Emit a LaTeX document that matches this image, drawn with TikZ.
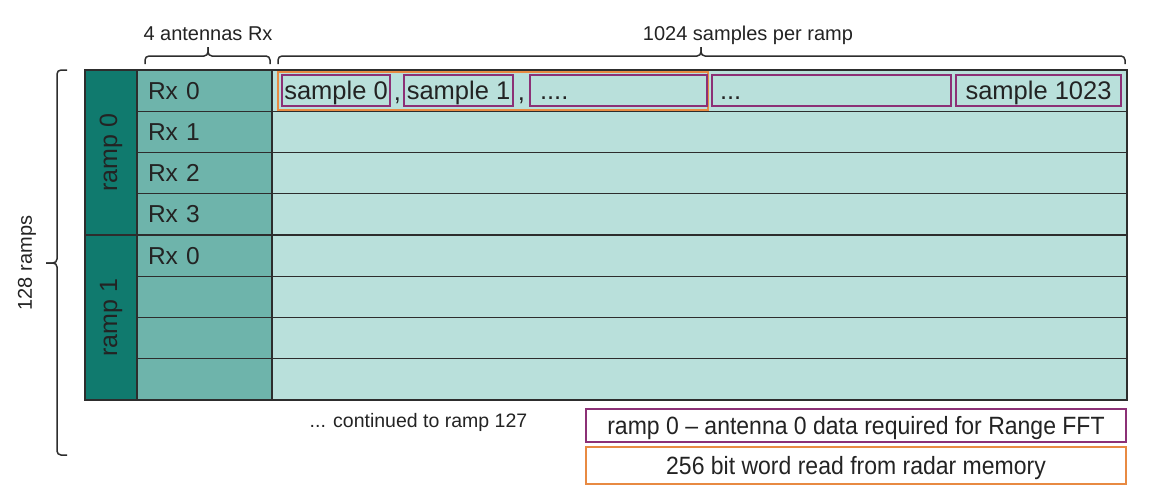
\documentclass[tikz,border=0pt]{standalone}
\usepackage{fontspec}
\setmainfont{Liberation Sans}
\newfontfamily\narrowfont{Liberation Sans}[FakeStretch=0.92]
\usepackage{tikz}
\usetikzlibrary{positioning}

\definecolor{RampColor}{RGB}{16,122,110}
\definecolor{RxColor}{RGB}{110,180,171}
\definecolor{DataColor}{RGB}{185,224,219}
\definecolor{SampleColor}{RGB}{140,48,118}
\definecolor{WordColor}{RGB}{232,138,66}
\definecolor{TextColor}{RGB}{35,35,35}
\definecolor{LineColor}{RGB}{45,45,45}

\tikzstyle{cell} = [draw=LineColor, line width=1.4pt, inner sep=0pt, outer sep=0pt]
\tikzstyle{rampcell} = [cell, fill=RampColor, minimum width=52pt, minimum height=165pt]
\tikzstyle{rxcell} = [cell, fill=RxColor, minimum height=41.25pt, text width=113pt, inner xsep=11pt, align=left, font=\fontsize{24.5}{28}\selectfont]
\tikzstyle{datacell} = [cell, fill=DataColor, minimum width=855pt, minimum height=41.25pt]
\tikzstyle{ramplabel} = [rotate=90, font=\fontsize{25}{28}\selectfont]
\tikzstyle{sample} = [draw=SampleColor, line width=1.6pt, minimum height=31pt, inner sep=0pt, text height=18.5pt, text depth=0pt, font=\fontsize{25.5}{28}\selectfont]
\tikzstyle{wordbox} = [draw=WordColor, line width=2.2pt, minimum width=430pt, minimum height=38pt]
\tikzstyle{bracket} = [draw=LineColor, line width=1.5pt, rounded corners=4pt]
\tikzstyle{toplabel} = [inner sep=0pt, font=\fontsize{20}{24}\selectfont]
\tikzstyle{legendbox} = [line width=1.8pt, minimum width=540pt, inner sep=0pt, text depth=0pt, font=\narrowfont\fontsize{25}{30}\selectfont]

\begin{document}
\begin{tikzpicture}[x=1pt, y=-1pt, text=TextColor]
  \useasboundingbox (0,0) rectangle (1151,490);

  % rows of the radar memory
  \foreach \lbl [count=\i from 0] in {Rx 0, Rx 1, Rx 2, Rx 3, Rx 0, {}, {}, {}} {
    \node[rxcell] (rx\i) at (204.5, 90.625+41.25*\i) {\lbl};
    \node[datacell] (data\i) at (699.5, 90.625+41.25*\i) {};
  }
  \node[rampcell] (ramp0) at (111, 152.5) {};
  \node[rampcell] (ramp1) at (111, 317.5) {};
  \node[ramplabel] (ramp0label) at (ramp0.center) {ramp 0};
  \node[ramplabel] (ramp1label) at (ramp1.center) {ramp 1};

  % first row: samples
  \node[wordbox] (word) at (493, 91) {};
  \node[sample, minimum width=108pt] (s0) at (336, 90.5) {sample 0};
  \node[sample, minimum width=109pt] (s1) at (458.5, 90.5) {sample 1};
  \node[sample, minimum width=177pt, text width=157pt, align=left] (s2) at (618.5, 90.5) {....};
  \node[sample, minimum width=239pt, text width=223pt, align=left] (s3) at (831.5, 90.5) {...};
  \node[sample, minimum width=165pt] (s4) at (1038.5, 90.5) {sample 1023};
  \node[anchor=base, inner sep=0pt, font=\fontsize{25.5}{28}\selectfont] (comma0) at (397.5, 100) {,};
  \node[anchor=base, inner sep=0pt, font=\fontsize{25.5}{28}\selectfont] (comma1) at (521.5, 100) {,};

  % braces
  \coordinate (rxbraceL) at (145, 64);
  \coordinate (rxbraceR) at (270, 64);
  \coordinate (rxbraceMid) at (208, 56);
  \coordinate (rxbraceTip) at (208, 47);
  \coordinate (smpbraceL) at (278, 64);
  \coordinate (smpbraceR) at (1125, 64);
  \coordinate (smpbraceMid) at (701, 56);
  \coordinate (smpbraceTip) at (701, 47);
  \coordinate (rampbraceT) at (67, 70);
  \coordinate (rampbraceB) at (67, 455);
  \coordinate (rampbraceMid) at (57, 263);
  \coordinate (rampbraceTip) at (46, 263);
  \draw[bracket] (rxbraceL) |- (rxbraceMid) -- (rxbraceTip);
  \draw[bracket] (rxbraceR) |- (rxbraceMid) -- (rxbraceTip);
  \draw[bracket] (smpbraceL) |- (smpbraceMid) -- (smpbraceTip);
  \draw[bracket] (smpbraceR) |- (smpbraceMid) -- (smpbraceTip);
  \draw[bracket] (rampbraceT) -| (rampbraceMid) -- (rampbraceTip);
  \draw[bracket] (rampbraceB) -| (rampbraceMid) -- (rampbraceTip);
  \node[toplabel, anchor=base] (rxlabel) at (208, 40) {4 antennas Rx};
  \node[toplabel, anchor=base] (smplabel) at (748, 40) {1024 samples per ramp};
  \node[toplabel, rotate=90] (ramplabel) at (27, 263) {128 ramps};

  % legend
  \node[anchor=base, inner sep=0pt, font=\fontsize{19.5}{24}\selectfont] (more) at (418.5, 427) {... continued to ramp 127};
  \node[legendbox, draw=SampleColor, minimum height=33pt] (legendsample) at (856, 425.5) {ramp 0 – antenna 0 data required for Range FFT};
  \node[legendbox, draw=WordColor, minimum height=37pt] (legendword) at (856, 465.5) {256 bit word read from radar memory};
\end{tikzpicture}
\end{document}
